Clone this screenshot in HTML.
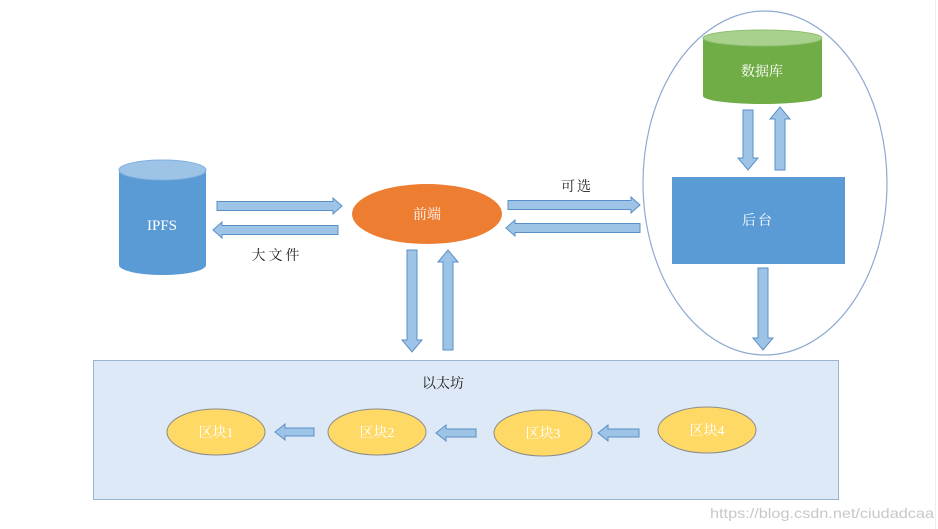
<!DOCTYPE html>
<html><head><meta charset="utf-8"><style>
html,body{margin:0;padding:0;background:#fff;width:938px;height:529px;overflow:hidden}
text{font-family:"Liberation Serif","Noto Serif CJK SC",serif}
</style></head><body>
<svg width="938" height="529" viewBox="0 0 938 529" xmlns="http://www.w3.org/2000/svg">
<g fill="#9dc3e6" stroke="#5b8fc7" stroke-width="1">
<polygon points="217,201.5 333,201.5 333,198 342,206 333,214 333,210.5 217,210.5"/>
<polygon points="338,225.5 222,225.5 222,222 213,230 222,238 222,234.5 338,234.5"/>
<polygon points="508,200.5 631,200.5 631,197 640,205 631,213 631,209.5 508,209.5"/>
<polygon points="640,223.5 515,223.5 515,220 506,228 515,236 515,232.5 640,232.5"/>
<polygon points="407,250 417,250 417,340 422,340 412,352 402,340 407,340"/>
<polygon points="443,350 453,350 453,262 458,262 448,250 438,262 443,262"/>
<polygon points="743,110 753,110 753,158 758,158 748,170 738,158 743,158"/>
<polygon points="775,170 785,170 785,119 790,119 780,107 770,119 775,119"/>
<polygon points="758,268 768,268 768,338 773,338 763,350 753,338 758,338"/>
</g>
<path d="M119,170 L119,265 A43.5,10 0 0 0 206,265 L206,170 Z" fill="#5b9bd5"/>
<ellipse cx="162.5" cy="170" rx="43.5" ry="10" fill="#9dc3e6" stroke="#7fb0e0"/>
<text x="162" y="230" font-size="15" fill="#fff" text-anchor="middle">IPFS</text>
<text x="277" y="260" font-size="14" fill="#222" text-anchor="middle" letter-spacing="3">大文件</text>
<ellipse cx="427" cy="214" rx="75" ry="30" fill="#ed7d31"/>
<text x="427" y="219" font-size="14" fill="#fff" text-anchor="middle">前端</text>
<text x="577" y="191" font-size="14" fill="#222" text-anchor="middle" letter-spacing="2">可选</text>
<ellipse cx="765" cy="183" rx="122" ry="172" fill="none" stroke="#8eaad0" stroke-width="1.2"/>
<path d="M703,38 L703,96 A59.5,8 0 0 0 822,96 L822,38 Z" fill="#70ad47"/>
<ellipse cx="762.5" cy="38" rx="59.5" ry="8" fill="#a9d18e" stroke="#8fbf70"/>
<text x="762" y="76" font-size="14" fill="#fff" text-anchor="middle">数据库</text>
<rect x="672" y="177" width="173" height="87" fill="#5b9bd5"/>
<text x="758" y="225" font-size="14" fill="#fff" text-anchor="middle" letter-spacing="2">后台</text>
<rect x="93.5" y="360.5" width="745" height="139" fill="#dde9f6" stroke="#9ab3d3"/>
<text x="443" y="388" font-size="14" fill="#222" text-anchor="middle">以太坊</text>
<g fill="#ffd966" stroke="#8c8c8c" stroke-width="1">
<ellipse cx="216" cy="432" rx="49" ry="23"/>
<ellipse cx="377" cy="432" rx="49" ry="23"/>
<ellipse cx="543" cy="433" rx="49" ry="23"/>
<ellipse cx="707" cy="430" rx="49" ry="23"/>
</g>
<g font-size="14" fill="#fff" text-anchor="middle">
<text x="216" y="437">区块1</text>
<text x="377" y="437">区块2</text>
<text x="543" y="438">区块3</text>
<text x="707" y="435">区块4</text>
</g>
<g fill="#9dc3e6" stroke="#5b8fc7" stroke-width="1">
<polygon points="314,428 285,428 285,424 275,432 285,440 285,436 314,436"/>
<polygon points="476,429 446,429 446,425 436,433 446,441 446,437 476,437"/>
<polygon points="639,429 608,429 608,425 598,433 608,441 608,437 639,437"/>
</g>
<line x1="935.5" y1="0" x2="935.5" y2="529" stroke="#eeeeee"/>
<text x="934" y="518" font-size="14" fill="#c8c8c8" text-anchor="end" textLength="224" lengthAdjust="spacingAndGlyphs" style="font-family:'Liberation Sans',sans-serif">https://blog.csdn.net/ciudadcaa</text>
</svg>
</body></html>
